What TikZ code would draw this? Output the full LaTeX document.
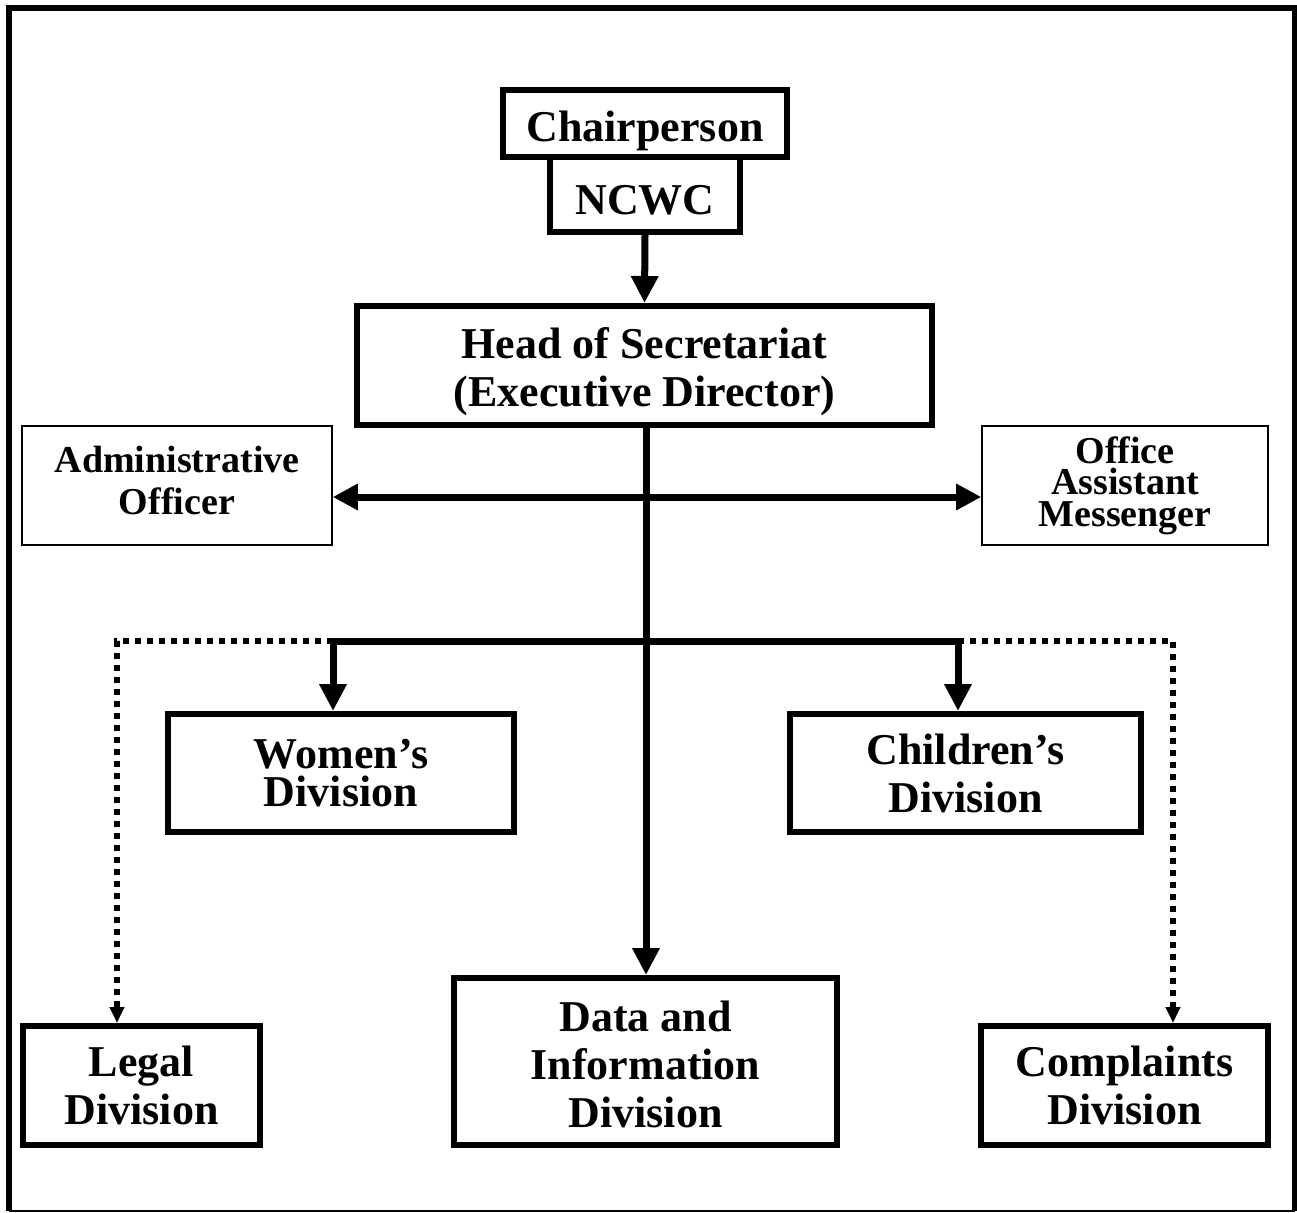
\documentclass[tikz,border=0pt]{standalone}
\usepackage{fontspec}
\setmainfont{Liberation Serif}
\usetikzlibrary{arrows.meta}
\begin{document}
\begin{tikzpicture}[x=1pt,y=-1pt,
  bigbox/.style={draw, line width=6pt, inner sep=0pt, align=center,
    font=\bfseries\fontsize{44}{48}\selectfont},
  thinbox/.style={draw, line width=1.6pt, inner sep=0pt, align=center},
  mainline/.style={line width=7pt, line join=miter},
  headarrow/.style={-{Triangle[length=27pt,width=26pt]}},
  bothheads/.style={{Triangle[length=25pt,width=25pt]}-{Triangle[length=25pt,width=25pt]}},
  dotline/.style={line width=6.5pt, dash pattern=on 6pt off 6pt,
    -{Triangle[length=16pt,width=14pt]}}]
\useasboundingbox (0,0) rectangle (1297,1212);
% outer frame
\draw[line width=6pt] (8.5,1210.5) -- (8.5,8) -- (1294.5,8) -- (1294.5,1210.5);
\draw[line width=2pt] (8.5,1210.5) -- (1294.5,1210.5);
% nodes
\node[bigbox, minimum width=284pt, minimum height=67pt] (chair) at (645,123.5)
  {\rule{0pt}{46pt}Chairperson};
\node[bigbox, minimum width=190pt, minimum height=75pt] (ncwc) at (645,194.5)
  {\rule{0pt}{41pt}NCWC};
\node[bigbox, minimum width=575pt, minimum height=119pt] (head) at (644.5,365.5)
  {\rule{0pt}{44pt}Head of Secretariat\\(Executive Director)};
\node[thinbox, minimum width=310pt, minimum height=119pt,
  font=\bfseries\fontsize{38}{42}\selectfont] (admin) at (177,485.5)
  {Administrative\\Officer\rule[-10pt]{0pt}{10pt}};
\node[thinbox, minimum width=286pt, minimum height=119pt,
  font=\bfseries\fontsize{38}{31.5}\selectfont] (office) at (1125,485.5)
  {Office\\Assistant\\Messenger};
\node[bigbox, minimum width=346pt, minimum height=118pt,
  font=\bfseries\fontsize{44}{38}\selectfont] (women) at (341,773)
  {Women’s\\Division};
\node[bigbox, minimum width=351pt, minimum height=118pt] (children) at (965.5,773)
  {Children’s\\Division};
\node[bigbox, minimum width=237pt, minimum height=119pt] (legal) at (141.5,1085.5)
  {Legal\\Division};
\node[bigbox, minimum width=383pt, minimum height=167pt] (data) at (645.5,1061.5)
  {\rule{0pt}{36pt}Data and\\Information\\Division};
\node[bigbox, minimum width=287pt, minimum height=119pt] (compl) at (1124.5,1085.5)
  {Complaints\\Division};
% helper coordinates
\coordinate (hy) at (646,497);
\coordinate (cm) at (646,641);
\coordinate (bl) at (333,641);
\coordinate (br) at (958,641);
\coordinate (dl) at (117,641);
\coordinate (dr) at (1173,641);
% connectors
\draw[mainline, headarrow] (ncwc.south) -- (head.north);
\draw[mainline] (cm |- head.south) -- (cm);
\draw[mainline, headarrow] (cm) -- (cm |- data.north);
\draw[mainline, bothheads] (admin.east |- hy) -- (office.west |- hy);
\draw[dotline] (bl) -- (dl) -- (dl |- legal.north);
\draw[dotline] (br) -- (dr) -- (dr |- compl.north);
\draw[mainline, headarrow] (cm) -- (bl) -- (bl |- women.north);
\draw[mainline, headarrow] (cm) -- (br) -- (br |- children.north);
\end{tikzpicture}
\end{document}
